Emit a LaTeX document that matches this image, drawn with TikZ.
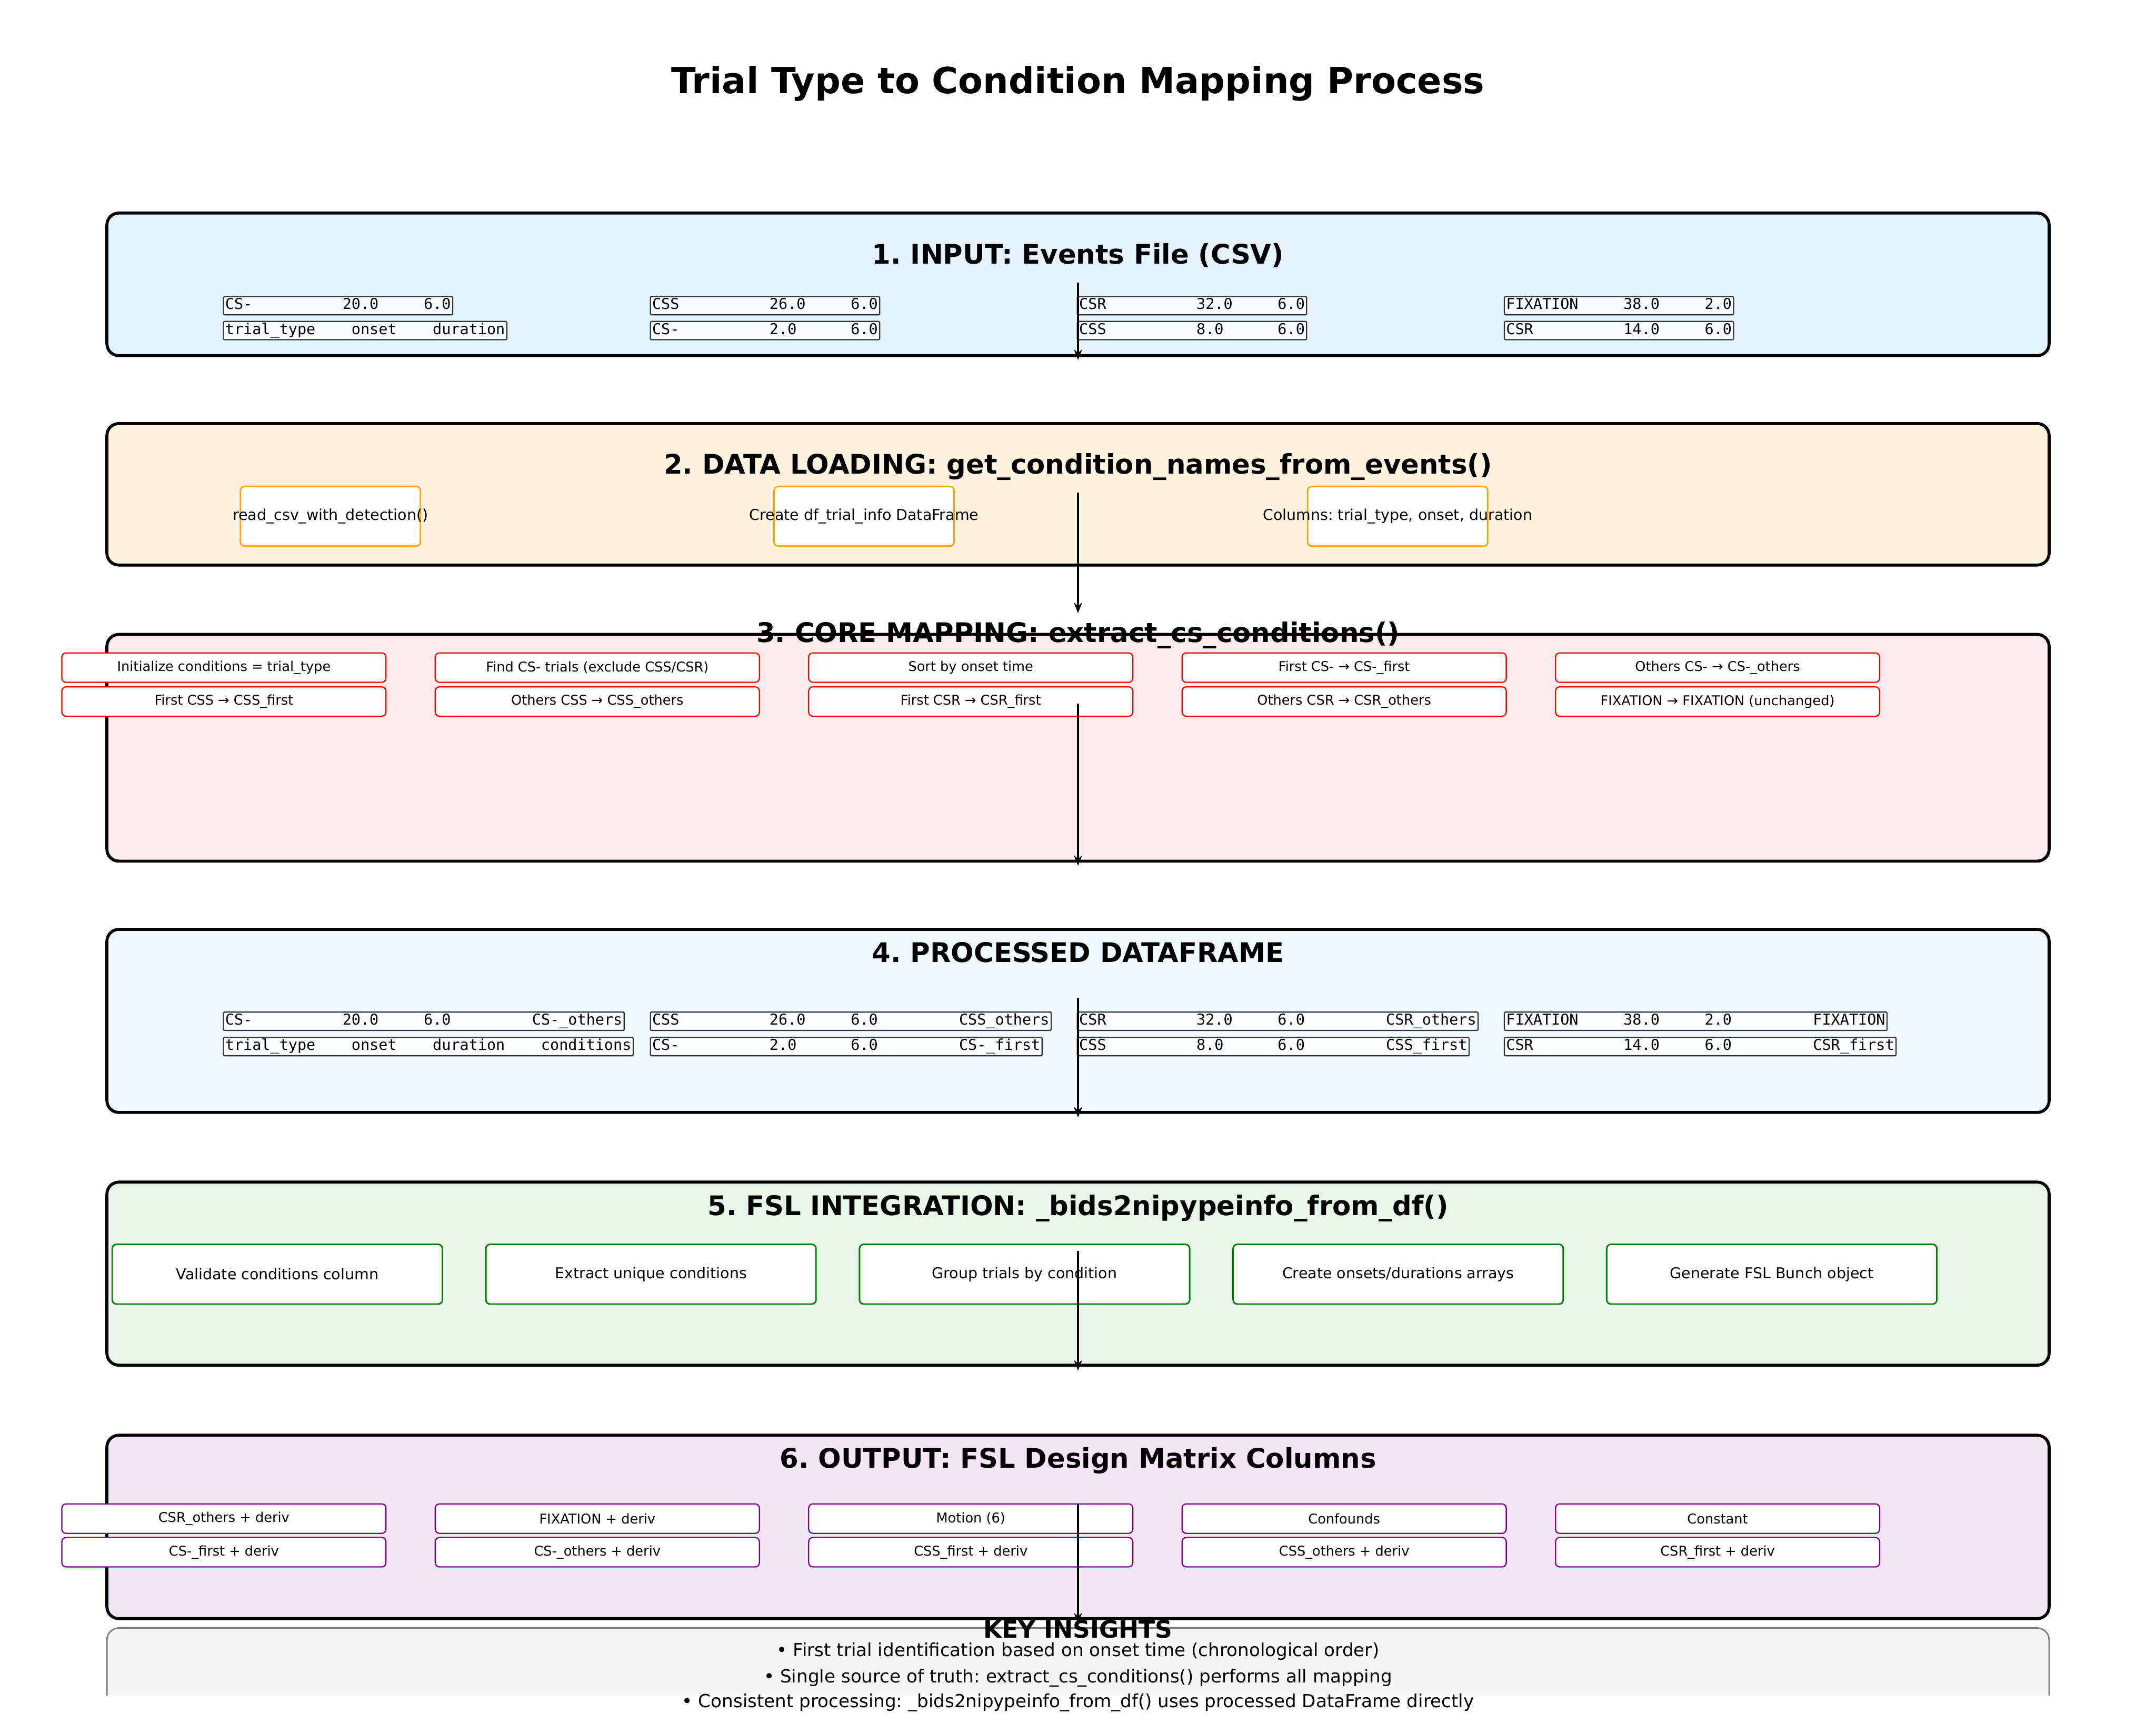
\documentclass[tikz,border=0pt]{standalone}
\usepackage{fontspec}
\setmainfont{DejaVu Sans}
\setmonofont{DejaVu Sans Mono}
\usetikzlibrary{arrows.meta}
\frenchspacing
\definecolor{inbg}{HTML}{E3F2FD}
\definecolor{loadbg}{HTML}{FFF3E0}
\definecolor{mapbg}{HTML}{FFEBEE}
\definecolor{procbg}{HTML}{F0F8FF}
\definecolor{fslbg}{HTML}{E8F5E9}
\definecolor{outbg}{HTML}{F3E5F5}
\definecolor{keybg}{HTML}{F5F5F5}
\definecolor{orangeedge}{HTML}{FFA500}
\definecolor{greenedge}{HTML}{008000}
\definecolor{purpleedge}{HTML}{800080}
\newlength\chw
\newcommand\fld[2]{\settowidth\chw{0}\makebox[#1\chw][l]{#2}}
\newcommand\evrow[3]{\fld{13}{#1}\fld{9}{#2}#3}
\newcommand\procrow[4]{\fld{13}{#1}\fld{9}{#2}\fld{12}{#3}#4}
\newcommand\nowide[1]{\makebox[0pt]{#1}}
\tikzset{
  stagebox/.style={draw=black, line width=2pt, rounded corners=2.8mm},
  stagetitle/.style={anchor=base, font=\fontsize{18}{22}\selectfont\bfseries},
  evcell/.style={anchor=base west, draw=black!80, fill=white, fill opacity=0.8,
    text opacity=1, line width=0.8pt, rounded corners=0.6pt, inner xsep=1.2pt,
    inner ysep=0pt, text height=8.6pt, text depth=3.6pt,
    font=\fontsize{10}{12}\ttfamily},
  subbox/.style={fill=white, line width=1pt, rounded corners=1mm, inner sep=0pt},
  loadstep/.style={subbox, draw=orangeedge, minimum width=42.2mm, minimum height=14mm,
    font=\fontsize{10}{12}\selectfont},
  mapstep/.style={subbox, draw=red, line width=0.8pt, minimum width=76mm,
    minimum height=6.9mm, font=\fontsize{9}{11}\selectfont},
  fslstep/.style={subbox, draw=greenedge, minimum width=77.4mm, minimum height=14mm,
    font=\fontsize{10}{12}\selectfont},
  outcol/.style={subbox, draw=purpleedge, line width=0.8pt, minimum width=76mm,
    minimum height=6.9mm, font=\fontsize{9}{11}\selectfont},
  keyline/.style={anchor=base, font=\fontsize{12}{14}\selectfont},
  flow/.style={line width=1.5pt, -{Stealth[length=7pt,width=5.5pt]}}
}
\begin{document}
\begin{tikzpicture}[x=0.84667mm, y=-0.84667mm]
  \useasboundingbox (0,0) rectangle (597,477.4);
  \node[anchor=base, font=\fontsize{24}{29}\selectfont\bfseries] (title) at (298.5,25.9)
    {Trial Type to Condition Mapping Process};

  % stage 1
  \draw[stagebox, fill=inbg] (29.6,59.0) rectangle (567.4,98.5);
  \node[stagetitle] (t1) at (298.5,73.1) {1. INPUT: Events File (CSV)};
  \foreach \a/\b/\c [count=\i] in {CS-/20.0/6.0, CSS/26.0/6.0, CSR/32.0/6.0, FIXATION/38.0/2.0}
    \node[evcell] (inA\i) at ({61.7+118.23*(\i-1)},85.7) {\evrow{\a}{\b}{\c}};
  \node[evcell] (inB1) at (61.7,92.6) {\fld{14}{trial\_type}\fld{9}{onset}duration};
  \foreach \a/\b/\c [count=\i from 2] in {CS-/2.0/6.0, CSS/8.0/6.0, CSR/14.0/6.0}
    \node[evcell] (inB\i) at ({61.7+118.23*(\i-1)},92.6) {\evrow{\a}{\b}{\c}};

  % stage 2
  \draw[stagebox, fill=loadbg] (29.6,117.3) rectangle (567.4,156.5);
  \node[stagetitle] (t2) at (298.5,131.3) {2. DATA LOADING: get\_condition\_names\_from\_events()};
  \foreach \txt [count=\i] in {{read\_csv\_with\_detection()}, {Create df\_trial\_info DataFrame},
      {Columns: trial\_type, onset, duration}}
    \node[loadstep] (load\i) at ({91.5+147.75*(\i-1)},143.0) {\nowide{\txt}};

  % stage 3
  \draw[stagebox, fill=mapbg] (29.6,175.7) rectangle (567.4,238.5);
  \node[stagetitle] (t3) at (298.5,177.9) {3. CORE MAPPING: extract\_cs\_conditions()};
  \foreach \txt [count=\i] in {{Initialize conditions = trial\_type}, {Find CS- trials (exclude CSS/CSR)},
      {Sort by onset time}, {First CS- → CS-\_first}, {Others CS- → CS-\_others}}
    \node[mapstep] (mapA\i) at ({62.0+103.4*(\i-1)},184.9) {\txt};
  \foreach \txt [count=\i] in {{First CSS → CSS\_first}, {Others CSS → CSS\_others},
      {First CSR → CSR\_first}, {Others CSR → CSR\_others}, {FIXATION → FIXATION (unchanged)}}
    \node[mapstep] (mapB\i) at ({62.0+103.4*(\i-1)},194.3) {\txt};

  % stage 4
  \draw[stagebox, fill=procbg] (29.6,257.4) rectangle (567.4,308.1);
  \node[stagetitle] (t4) at (298.5,266.5) {4. PROCESSED DATAFRAME};
  \foreach \a/\b/\c/\d [count=\i] in {CS-/20.0/6.0/CS-\_others, CSS/26.0/6.0/CSS\_others,
      CSR/32.0/6.0/CSR\_others, FIXATION/38.0/2.0/FIXATION}
    \node[evcell] (prA\i) at ({61.7+118.23*(\i-1)},283.9) {\procrow{\a}{\b}{\c}{\d}};
  \node[evcell] (prB1) at (61.7,290.9) {\fld{14}{trial\_type}\fld{9}{onset}\fld{12}{duration}conditions};
  \foreach \a/\b/\c/\d [count=\i from 2] in {CS-/2.0/6.0/CS-\_first, CSS/8.0/6.0/CSS\_first,
      CSR/14.0/6.0/CSR\_first}
    \node[evcell] (prB\i) at ({61.7+118.23*(\i-1)},290.9) {\procrow{\a}{\b}{\c}{\d}};

  % stage 5
  \draw[stagebox, fill=fslbg] (29.6,327.4) rectangle (567.4,378.1);
  \node[stagetitle] (t5) at (298.5,336.6) {5. FSL INTEGRATION: \_bids2nipypeinfo\_from\_df()};
  \foreach \txt [count=\i] in {{Validate conditions column}, {Extract unique conditions},
      {Group trials by condition}, {Create onsets/durations arrays}, {Generate FSL Bunch object}}
    \node[fslstep] (fsl\i) at ({76.8+103.45*(\i-1)},352.9) {\txt};

  % stage 6
  \draw[stagebox, fill=outbg] (29.6,397.5) rectangle (567.4,448.3);
  \node[stagetitle] (t6) at (298.5,406.6) {6. OUTPUT: FSL Design Matrix Columns};
  \foreach \txt [count=\i] in {{CSR\_others + deriv}, {FIXATION + deriv}, {Motion (6)},
      {Confounds}, {Constant}}
    \node[outcol] (outA\i) at ({62.0+103.4*(\i-1)},420.6) {\txt};
  \foreach \txt [count=\i] in {{CS-\_first + deriv}, {CS-\_others + deriv}, {CSS\_first + deriv},
      {CSS\_others + deriv}, {CSR\_first + deriv}}
    \node[outcol] (outB\i) at ({62.0+103.4*(\i-1)},429.9) {\txt};

  % key insights, cut off by the axes
  \begin{scope}
    \clip (0,0) rectangle (597,469.6);
    \draw[draw=black!50, line width=1pt, fill=keybg, rounded corners=2.8mm]
      (29.6,450.9) rectangle (567.4,480);
  \end{scope}
  \node[anchor=base, font=\fontsize{16}{19}\selectfont\bfseries] (key) at (298.5,453.6) {KEY INSIGHTS};
  \node[keyline] (key1) at (298.5,458.8)
    {• First trial identification based on onset time (chronological order)};
  \node[keyline] (key2) at (298.5,466.1)
    {• Single source of truth: extract\_cs\_conditions() performs all mapping};
  \node[keyline] (key3) at (298.5,472.9)
    {• Consistent processing: \_bids2nipypeinfo\_from\_df() uses processed DataFrame directly};

  % flow arrows
  \foreach \s/\e [count=\i] in {78.2/99.7, 136.4/169.8, 194.9/239.8, 276.4/309.5, 346.4/379.6, 416.5/449.6} {
    \coordinate (from\i) at (298.5,\s);
    \coordinate (to\i) at (298.5,\e);
    \draw[flow] (from\i) -- (to\i);
  }
\end{tikzpicture}
\end{document}
